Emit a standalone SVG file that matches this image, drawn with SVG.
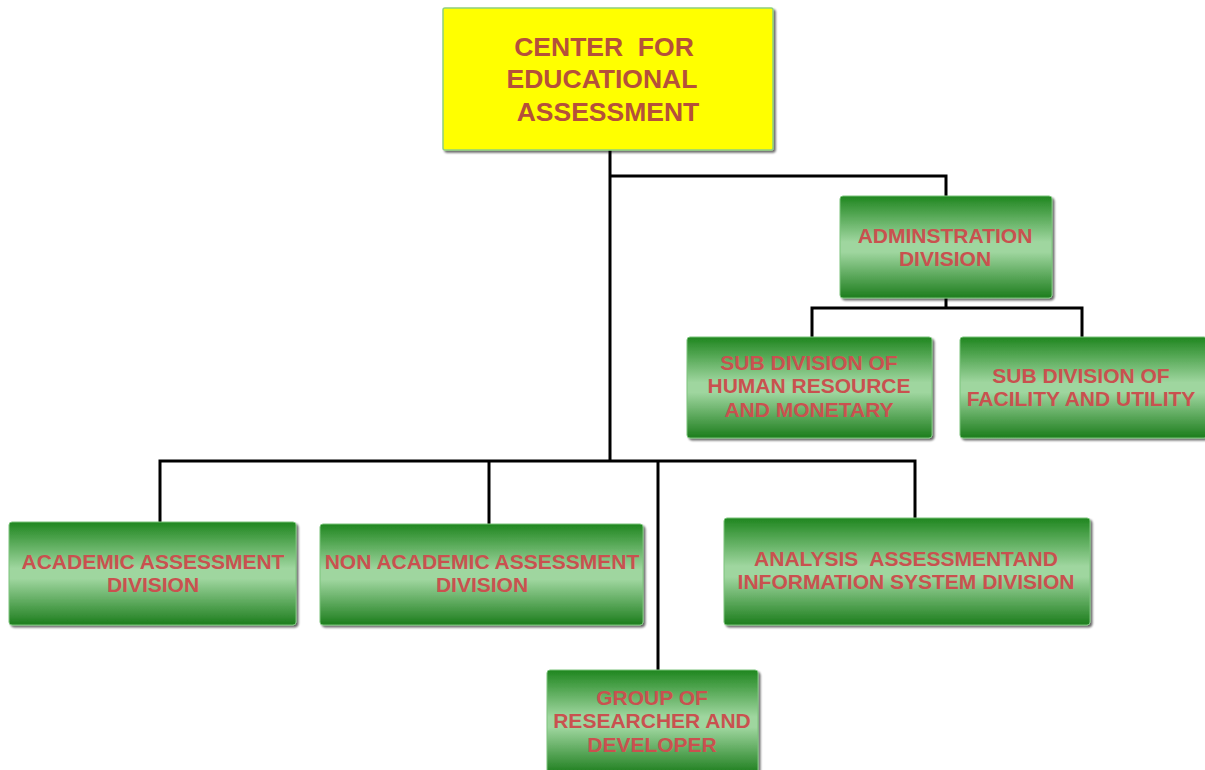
<svg xmlns="http://www.w3.org/2000/svg" width="1205" height="770" viewBox="0 0 1205 770">
  <defs>
    <linearGradient id="greenFill" x1="0" y1="0" x2="0" y2="1">
      <stop offset="0" stop-color="#1f861f"/>
      <stop offset="0.45" stop-color="#9fd69f"/>
      <stop offset="0.55" stop-color="#9fd69f"/>
      <stop offset="1" stop-color="#1c7d1c"/>
    </linearGradient>
    <filter id="shadow" x="-5%" y="-5%" width="110%" height="115%">
      <feGaussianBlur in="SourceAlpha" stdDeviation="1"/>
      <feOffset dx="2" dy="2" result="off"/>
      <feComponentTransfer><feFuncA type="linear" slope="0.6"/></feComponentTransfer>
      <feMerge><feMergeNode/><feMergeNode in="SourceGraphic"/></feMerge>
    </filter>
  </defs>
  <style>
    .box { fill: url(#greenFill); stroke: #7cc47c; stroke-width: 1; filter: url(#shadow); }
    .top { fill: #ffff00; stroke: #8fcf7f; stroke-width: 1.5; filter: url(#shadow); }
    .lbl { font-family: "Liberation Sans", Arial, sans-serif; font-weight: bold; font-size: 21px; fill: #c9514f; text-anchor: middle; white-space: pre; }
    .head { font-family: "Liberation Sans", Arial, sans-serif; font-weight: bold; font-size: 26.5px; fill: #b5503a; text-anchor: middle; white-space: pre; }
    .wire { stroke: #000; stroke-width: 3; fill: none; }
  </style>
  <rect width="1205" height="770" fill="#ffffff"/>

  <g id="connectors">
    <path class="wire" d="M610 150 V462"/>
    <path class="wire" d="M610 176 H946 V196"/>
    <path class="wire" d="M946 298 V308"/>
    <path class="wire" d="M812 337 V308 H1082 V337"/>
    <path class="wire" d="M160 522 V461 H915 V518"/>
    <path class="wire" d="M489 461 V524"/>
    <path class="wire" d="M658 461 V670"/>
  </g>

  <g id="center">
    <rect class="top" x="443" y="8" width="330" height="142" rx="2"/>
    <text class="head" x="604" y="56">CENTER  FOR</text>
    <text class="head" x="602" y="88">EDUCATIONAL</text>
    <text class="head" x="608" y="121">ASSESSMENT</text>
  </g>

  <g id="admin">
    <rect class="box" x="840" y="196" width="212" height="102" rx="3"/>
    <text class="lbl" x="945" y="243">ADMINSTRATION</text>
    <text class="lbl" x="945" y="266">DIVISION</text>
  </g>

  <g id="sub-hr">
    <rect class="box" x="687" y="337" width="245" height="101" rx="3"/>
    <text class="lbl" x="809" y="370">SUB DIVISION OF</text>
    <text class="lbl" x="809" y="393">HUMAN RESOURCE</text>
    <text class="lbl" x="809" y="417">AND MONETARY</text>
  </g>

  <g id="sub-facility">
    <rect class="box" x="960" y="337" width="247" height="101" rx="3"/>
    <text class="lbl" x="1081" y="383">SUB DIVISION OF</text>
    <text class="lbl" x="1081" y="406">FACILITY AND UTILITY</text>
  </g>

  <g id="academic">
    <rect class="box" x="9" y="522" width="287" height="103" rx="3"/>
    <text class="lbl" x="153" y="569">ACADEMIC ASSESSMENT</text>
    <text class="lbl" x="153" y="592">DIVISION</text>
  </g>

  <g id="non-academic">
    <rect class="box" x="320" y="524" width="323" height="101" rx="3"/>
    <text class="lbl" x="482" y="569">NON ACADEMIC ASSESSMENT</text>
    <text class="lbl" x="482" y="592">DIVISION</text>
  </g>

  <g id="analysis">
    <rect class="box" x="724" y="518" width="366" height="107" rx="3"/>
    <text class="lbl" x="906" y="566">ANALYSIS  ASSESSMENTAND</text>
    <text class="lbl" x="906" y="589">INFORMATION SYSTEM DIVISION</text>
  </g>

  <g id="research">
    <rect class="box" x="547" y="670" width="211" height="104" rx="3"/>
    <text class="lbl" x="652" y="705">GROUP OF</text>
    <text class="lbl" x="652" y="728">RESEARCHER AND</text>
    <text class="lbl" x="652" y="752">DEVELOPER</text>
  </g>
</svg>
